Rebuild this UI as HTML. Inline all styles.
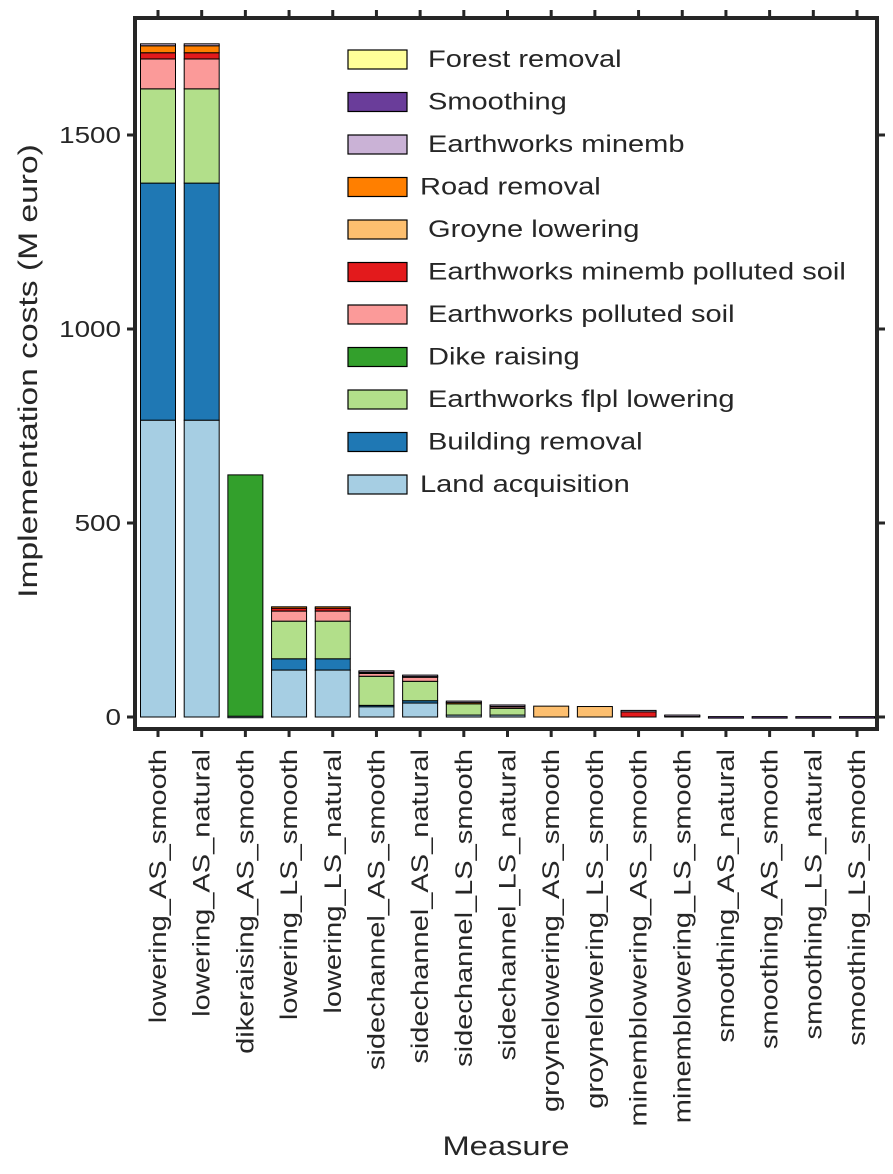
<!DOCTYPE html>
<html><head><meta charset="utf-8"><style>
html,body{margin:0;padding:0;background:#fff;}
svg text{font-family:"Liberation Sans",Arial,sans-serif;fill:#262626;}
</style></head><body>
<svg id="chart" width="893" height="1169" xmlns="http://www.w3.org/2000/svg">
<g id="bars"></g>
<g id="axes"></g>
<g id="legend"></g>
</svg>
<script>
const categories=["lowering_AS_smooth","lowering_AS_natural","dikeraising_AS_smooth","lowering_LS_smooth","lowering_LS_natural","sidechannel_AS_smooth","sidechannel_AS_natural","sidechannel_LS_smooth","sidechannel_LS_natural","groynelowering_AS_smooth","groynelowering_LS_smooth","minemblowering_AS_smooth","minemblowering_LS_smooth","smoothing_AS_natural","smoothing_AS_smooth","smoothing_LS_natural","smoothing_LS_smooth"];
const seriesNames=["Land acquisition","Building removal","Earthworks flpl lowering","Dike raising","Earthworks polluted soil","Earthworks minemb polluted soil","Groyne lowering","Road removal","Earthworks minemb","Smoothing","Forest removal"];
const seriesColors=["#a6cee3","#1f78b4","#b2df8a","#33a02c","#fb9a99","#e31a1c","#fdbf6f","#ff7f00","#cab2d6","#6a3d9a","#ffff99"];
const landAcq=[765,765,2,121,121,28,36,5,5,0,0,0,0,0,0,0,0];
const buildingRem=[611,611,0,29,29,2,6,0,0,0,0,0,0,0,0,0,0];
const flplLower=[243,243,0,97,97,75,50,29,18,0,0,0,0,0,0,0,0];
const dikeRaise=[0,0,622,0,0,0,0,0,0,0,0,0,0,0,0,0,0];
const pollutedSoil=[77,77,0,26,26,8,12,0,3,0,0,0,0,0,0,0,0];
const minembPolluted=[16,16,0,8,8,3,0,0,0,0,0,14,4,0,0,0,0];
const groyneLower=[0,0,0,0,0,0,0,0,0,28,27,0,0,0,0,0,0];
const roadRem=[18,18,0,3,3,2,2,4,4,0,0,0,0,0,0,0,0];
const minembEarth=[5,5,0,0,0,1,2,3,1,0,0,3,1,0,0,0,0];
const smoothingC=[0,0,0,0,0,0,0,0,0,0,0,0,0,1,1,1,1];
const forestRem=[0,0,0,0,0,0,0,0,0,0,0,0,0,0,0,0,0];
const series=[landAcq,buildingRem,flplLower,dikeRaise,pollutedSoil,minembPolluted,groyneLower,roadRem,minembEarth,smoothingC,forestRem];
const yTicks=[0,500,1000,1500];
const legendOrder=[10,9,8,7,6,5,4,3,2,1,0];

const NS="http://www.w3.org/2000/svg";
const L=135,R=877,T=18,B=729;
const y0=717,pxPer=194/500;
const yS=v=>y0-v*pxPer;
const x0=158,step=(857-158)/16,bw=35;
const xS=i=>x0+i*step;
const SX=1.21;
function mk(tag,attrs,parent){const e=document.createElementNS(NS,tag);for(const k in attrs)e.setAttribute(k,attrs[k]);parent.appendChild(e);return e;}
const gb=document.getElementById('bars');
categories.forEach((c,i)=>{
  let acc=0;
  series.forEach((s,k)=>{
    const v=s[i];if(v<=0)return;
    const r=mk('rect',{x:xS(i)-bw/2,y:yS(acc+v),width:bw,height:Math.max(v*pxPer,1.5),fill:seriesColors[k],stroke:'#000','stroke-width':1},gb);
    
    
    acc+=v;
  });
});
const ga=document.getElementById('axes');
const fr=mk('rect',{x:L,y:T,width:R-L,height:B-T,fill:'none',stroke:'#262626','stroke-width':4},ga);

yTicks.forEach(v=>{
  const y=yS(v);
  mk('line',{x1:L-8,x2:L,y1:y,y2:y,stroke:'#262626','stroke-width':3},ga);
  mk('line',{x1:R,x2:R+8,y1:y,y2:y,stroke:'#262626','stroke-width':3},ga);
  const t=mk('text',{x:0,y:0,'text-anchor':'end','font-size':23,transform:`translate(${L-14},${y+8}) scale(${SX},1)`},ga);
  t.textContent=v;
  
});
categories.forEach((c,i)=>{
  const x=xS(i);
  mk('line',{x1:x,x2:x,y1:B,y2:B+8,stroke:'#262626','stroke-width':3},ga);
  mk('line',{x1:x,x2:x,y1:T-8,y2:T,stroke:'#262626','stroke-width':3},ga);
  const t=mk('text',{x:0,y:0,'text-anchor':'end','font-size':24,transform:`translate(${x+8},${B+20}) rotate(-90) scale(${SX},1)`},ga);
  t.textContent=c;
  
});
const xt=mk('text',{x:0,y:0,'text-anchor':'middle','font-size':27,transform:`translate(506,1155) scale(${SX},1)`},ga);
xt.textContent='Measure';
const yt=mk('text',{x:0,y:0,'text-anchor':'middle','font-size':27,transform:`translate(37,371) rotate(-90) scale(1.245,1)`},ga);
yt.textContent='Implementation costs (M euro)';
const gl=document.getElementById('legend');
legendOrder.forEach((k,j)=>{
  const y=59+j*42.5;
  const r=mk('rect',{x:348,y:y-9,width:59,height:19,fill:seriesColors[k],stroke:'#000','stroke-width':1.2},gl);
  
  const tx=(seriesNames[k].startsWith('Road')||seriesNames[k].startsWith('Land'))?420:428;
  const t=mk('text',{x:0,y:0,'font-size':24,transform:`translate(${tx},${y+8}) scale(${SX},1)`},gl);
  t.textContent=seriesNames[k];
  
});
</script>
</body></html>
